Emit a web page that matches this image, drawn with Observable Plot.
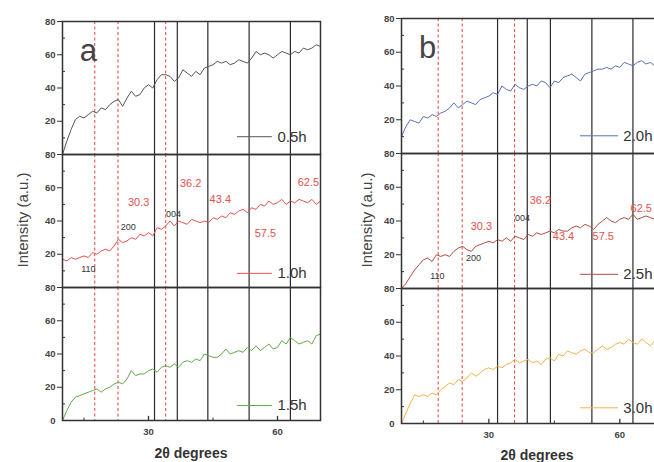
<!DOCTYPE html>
<html>
<head>
<meta charset="utf-8">
<script src="https://cdn.jsdelivr.net/npm/d3@7"></script>
<script src="https://cdn.jsdelivr.net/npm/@observablehq/plot@0.6"></script>
<style>
  html, body { margin: 0; padding: 0; background: #fff; }
  #fig { position: relative; width: 654px; height: 462px; overflow: hidden;
         font-family: "Liberation Sans", Arial, sans-serif; }
  .panel { position: absolute; top: 0; }
  .ylab { position: absolute; transform: translate(-50%, -50%) rotate(-90deg);
          font-size: 15px; color: #444; white-space: nowrap; }
  .xlab { position: absolute; transform: translate(-50%, -50%);
          font-size: 14px; font-weight: bold; color: #333; white-space: nowrap; }
</style>
</head>
<body>
<div id="fig"></div>
<script>
// 2θ sampling (degrees)
const twoTheta = [10, 11, 12, 13, 14, 15, 16, 17, 18, 19, 20, 21, 22, 23, 24, 25, 26, 27, 28, 29,
  30, 31, 32, 33, 34, 35, 36, 37, 38, 39, 40, 41, 42, 43, 44, 45, 46, 47, 48, 49,
  50, 51, 52, 53, 54, 55, 56, 57, 58, 59, 60, 61, 62, 63, 64, 65, 66, 67, 68, 69, 70];

// Milling times
const runsA = ["0.5h", "1.0h", "1.5h"];
const runsB = ["2.0h", "2.5h", "3.0h"];

// Diffracted intensity (a.u.) for each milling time
const i05 = [0, 8, 15, 21, 23, 22, 24, 26, 25, 28, 27, 30, 32, 33, 29, 34, 38, 35, 36, 40,
  42, 40, 45, 48, 48, 47, 44, 46, 51, 49, 47, 50, 48, 52, 53, 54, 56, 55, 56, 54,
  55, 57, 56, 55, 58, 62, 60, 61, 60, 58, 60, 62, 61, 60, 62, 61, 64, 63, 64, 66, 65];
const i10 = [17, 16, 18, 17, 18, 19, 18, 21, 20, 22, 23, 22, 25, 29, 27, 28, 30, 29, 32, 31,
  33, 31, 36, 35, 37, 40, 37, 40, 39, 38, 41, 40, 39, 40, 39, 42, 41, 43, 42, 45,
  44, 46, 47, 45, 48, 47, 50, 49, 52, 50, 51, 53, 50, 52, 51, 53, 52, 51, 53, 50, 52];
const i15 = [0, 6, 11, 14, 15, 16, 17, 18, 19, 17, 19, 20, 22, 23, 22, 25, 30, 27, 28, 28,
  30, 31, 29, 32, 33, 32, 34, 32, 35, 36, 35, 37, 36, 40, 39, 38, 38, 40, 43, 40,
  41, 42, 41, 44, 42, 45, 42, 44, 46, 43, 44, 48, 46, 50, 48, 46, 47, 48, 46, 51, 52];
const i20 = [10, 16, 20, 19, 18, 22, 21, 23, 22, 24, 25, 27, 30, 27, 29, 31, 30, 29, 32, 33,
  34, 36, 35, 40, 38, 37, 41, 39, 38, 40, 41, 40, 43, 42, 39, 43, 42, 45, 46, 47,
  45, 43, 47, 48, 49, 50, 50, 51, 50, 52, 51, 54, 53, 52, 54, 55, 53, 54, 52, 53, 54];
const i25 = [0, 3, 7, 11, 14, 17, 18, 16, 20, 19, 20, 19, 22, 24, 25, 23, 22, 25, 26, 27,
  28, 27, 29, 28, 30, 28, 31, 30, 29, 32, 31, 33, 32, 33, 34, 33, 35, 34, 34, 36,
  37, 36, 38, 37, 35, 38, 40, 42, 40, 39, 41, 42, 41, 44, 41, 42, 43, 42, 41, 43, 42];
const i30 = [0, 6, 12, 17, 16, 17, 16, 18, 17, 20, 22, 24, 23, 26, 25, 27, 30, 28, 30, 32,
  33, 32, 34, 33, 35, 36, 38, 36, 37, 38, 36, 37, 35, 38, 39, 37, 41, 40, 43, 42,
  41, 43, 44, 42, 42, 44, 46, 44, 45, 47, 48, 47, 50, 48, 47, 50, 48, 46, 49, 47, 48];

const colorsA = ["#555555", "#e8524f", "#62a84c"];
const colorsB = ["#5a72b4", "#b24a42", "#f2b24c"];

// Reference reflection positions (2θ)
const redLinesA = [17.5, 22.9, 34.0];
const blackLinesA = [31.4, 36.7, 43.8, 53.4, 63.0];
const redLinesB = [18.4, 23.9, 35.9];
const blackLinesB = [32.0, 38.8, 44.1, 53.6, 63.0];

// Peak annotations: red 2θ values and black Miller indices
const peakTextA = ["30.3", "36.2", "43.4", "57.5", "62.5"];
const peakXA = [27.7, 39.8, 46.7, 57.2, 67.2];
const peakYA = [50.9, 62.4, 52.7, 32.7, 63.0];
const hklTextA = ["110", "200", "004"];
const hklXA = [16.0, 25.3, 35.8];
const hklYA = [10.9, 36.4, 44.2];

const peakTextB = ["30.3", "36.2", "43.4", "57.5", "62.5"];
const peakXB = [28.3, 41.8, 47.1, 56.2, 64.9];
const peakYB = [36.7, 52.4, 30.7, 30.7, 47.6];
const hklTextB = ["110", "200", "004"];
const hklXB = [18.2, 26.5, 37.7];
const hklYB = [7.2, 18.0, 41.5];

// Legend sample lines (2θ span) and label position, per panel
const legendA = { x1: 50.7, x2: 58.8, xt: 60.0, y: [10.7, 8.5, 9.0] };
const legendB = { x1: 51.0, x2: 59.7, xt: 60.8, y: [10.5, 8.4, 9.3] };

const yMajor = [20, 40, 60, 80];
const yMinor = [10, 30, 50, 70];
const xMajor = [30, 60];
const xMinor = [15, 45];

function panel(cfg) {
  const { runs, series, colors, redLines, blackLines, peaks, hkl, legend, letter } = cfg;
  const rows = [];
  runs.forEach((r, k) => twoTheta.forEach((t, i) => rows.push({ run: r, t, v: series[k][i] })));
  const top = runs[0], mid = runs[1], bottom = runs[2];
  const legendRows = runs.map((r, k) => ({ run: r, y: legend.y[k] }));
  const peakRows = peaks.text.map((s, i) => ({ s, t: peaks.x[i], v: peaks.y[i] }));
  const hklRows = hkl.text.map((s, i) => ({ s, t: hkl.x[i], v: hkl.y[i] }));
  const font = "Liberation Sans, Arial, sans-serif";

  return Plot.plot({
    width: cfg.width, height: cfg.height,
    marginLeft: cfg.marginLeft, marginTop: cfg.marginTop,
    marginRight: 4, marginBottom: cfg.marginBottom,
    style: { fontFamily: font, background: "transparent", overflow: "visible", color: "#333" },
    x: { domain: [10, 70] },
    y: { domain: [0, 80] },
    fy: { domain: runs, padding: 0, axis: null },
    color: { domain: runs, range: colors },
    marks: [
      Plot.ruleX(redLines, { stroke: "#e8403a", strokeWidth: 1, strokeDasharray: "3,2.5" }),
      Plot.ruleX(blackLines, { stroke: "#2b2b2b", strokeWidth: 1.2 }),
      Plot.line(rows, { x: "t", y: "v", fy: "run", stroke: "run", strokeWidth: 1 }),
      // legend
      Plot.ruleY(legendRows, { fy: "run", y: "y", x1: legend.x1, x2: legend.x2, stroke: "run", strokeWidth: 1 }),
      Plot.text(legendRows, { fy: "run", y: "y", x: legend.xt, text: "run", textAnchor: "start",
        fontSize: 15, fill: "#333" }),
      // annotations
      Plot.text(peakRows, { fy: () => mid, x: "t", y: "v", text: "s", fill: "#e5514c", fontSize: 11 }),
      Plot.text(hklRows, { fy: () => mid, x: "t", y: "v", text: "s", fill: "#333", fontSize: 9 }),
      Plot.text([letter], { fy: () => top, x: 16, y: 62.5, text: (d) => d, fontSize: 31, fill: "#444" }),
      // axes
      Plot.frame({ stroke: "#333", strokeWidth: 1.5 }),
      Plot.axisY({ ticks: yMajor, tickSize: 5, tickPadding: 2, label: null,
        fontSize: 9.5, fontWeight: "bold", fill: "#444" }),
      Plot.text([bottom], { fy: (d) => d, x: 10, y: 0, text: () => "0", textAnchor: "end", dx: -7,
        fontSize: 9.5, fontWeight: "bold", fill: "#444" }),
      Plot.ruleY(yMinor, { x1: 10, x2: 10.7, stroke: "#333" }),
      Plot.axisX({ ticks: xMajor, tickSize: 0, tickPadding: 8, label: null,
        fontSize: 9.5, fontWeight: "bold", fill: "#444" }),
      Plot.ruleX(xMajor, { fy: () => bottom, y1: 0, y2: 2.5, stroke: "#333", strokeWidth: 1.3 }),
      Plot.ruleX(xMinor, { fy: () => bottom, y1: 0, y2: 1.5, stroke: "#333" })
    ]
  });
}

const fig = document.getElementById("fig");

const a = panel({
  runs: runsA, series: [i05, i10, i15], colors: colorsA,
  redLines: redLinesA, blackLines: blackLinesA,
  peaks: { text: peakTextA, x: peakXA, y: peakYA },
  hkl: { text: hklTextA, x: hklXA, y: hklYA },
  legend: legendA, letter: "a",
  width: 324, height: 444, marginLeft: 62, marginTop: 20, marginBottom: 24
});
a.classList.add("panel");
a.style.left = "0px";
fig.appendChild(a);

const b = panel({
  runs: runsB, series: [i20, i25, i30], colors: colorsB,
  redLines: redLinesB, blackLines: blackLinesB,
  peaks: { text: peakTextB, x: peakXB, y: peakYB },
  hkl: { text: hklTextB, x: hklXB, y: hklYB },
  legend: legendB, letter: "b",
  width: 327, height: 446, marginLeft: 61, marginTop: 17, marginBottom: 22
});
b.classList.add("panel");
b.style.left = "340px";
fig.appendChild(b);

function label(cls, text, x, y) {
  const d = document.createElement("div");
  d.className = cls;
  d.textContent = text;
  d.style.left = x + "px";
  d.style.top = y + "px";
  fig.appendChild(d);
}
label("ylab", "Intensity (a.u.)", 22, 220);
label("ylab", "Intensity (a.u.)", 366, 220);
label("xlab", "2θ degrees", 191, 453);
label("xlab", "2θ degrees", 537, 455);
</script>
</body>
</html>
